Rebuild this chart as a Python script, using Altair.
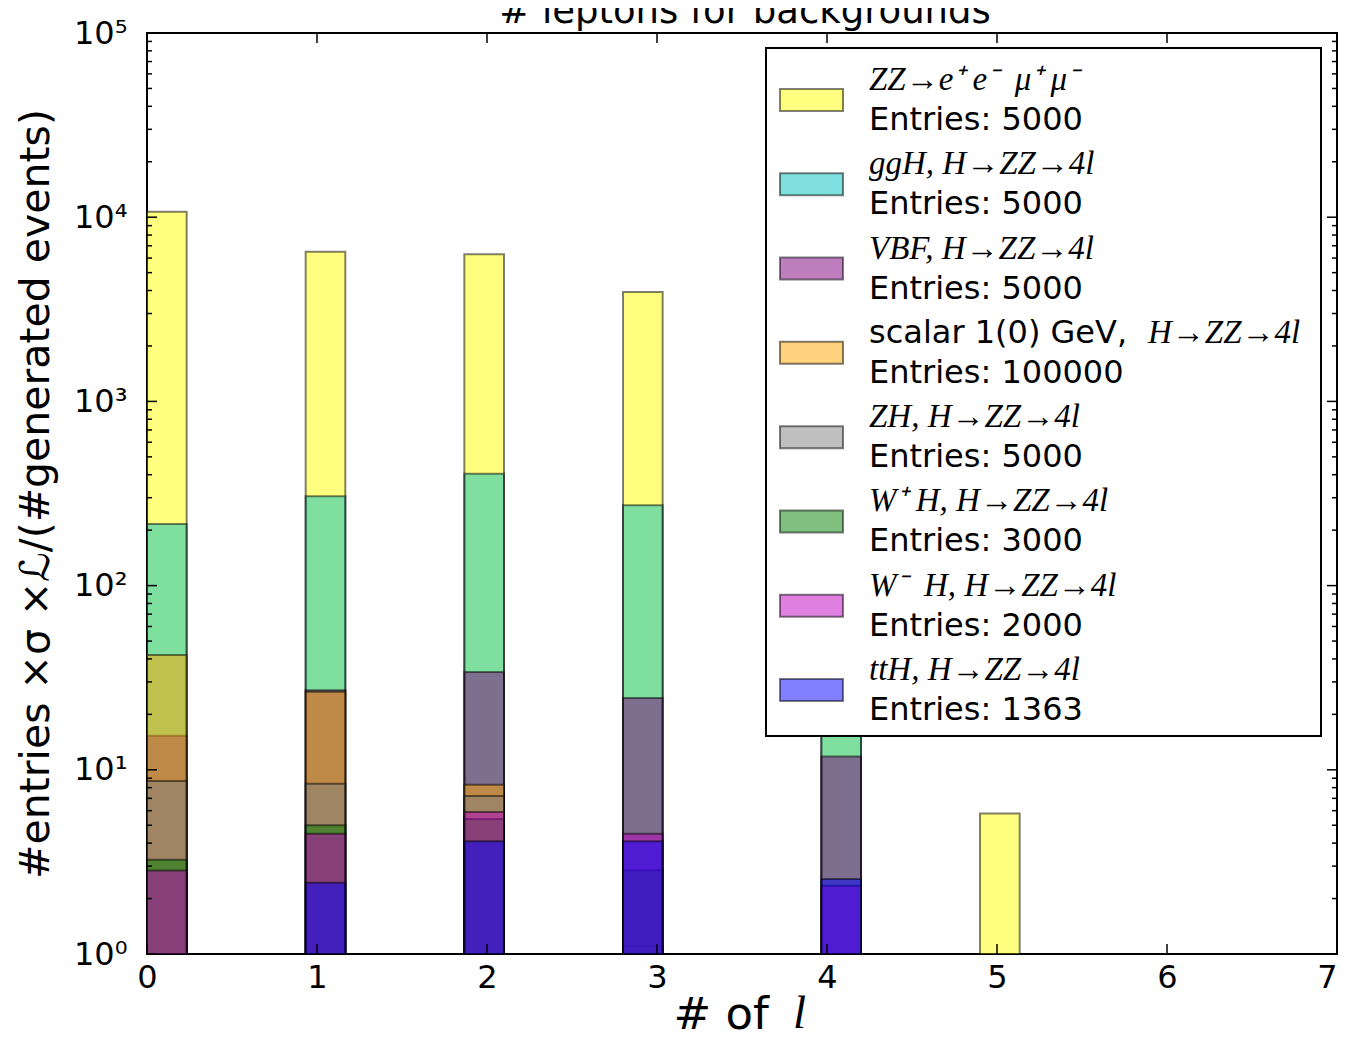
import altair as alt
import pandas as pd

# ---------------- data ----------------
series = ["ZZ", "ggH", "VBF", "scalar", "ZH", "WpH", "WmH", "ttH"]
colors = ["#ffff00", "#00bfbf", "#800080", "#ffa500", "#808080", "#008000", "#bf00bf", "#0000ff"]

# histogram: 30 bins over [0, 7]; only these bins hold entries
n_bins = 30
x_min, x_max = 0, 7
bin_index = [0, 4, 8, 12, 17, 21]

zz     = [10700, 6500, 6300, 3930, 800, 5.8]
ggh    = [216, 306, 405, 273, 90, None]
vbf    = [15.3, 27, 34, 24.5, 11.8, None]
scalar = [42, 26.5, 8.3, None, None, None]
zh     = [8.7, 8.4, 7.2, 1.1, None, None]
wph    = [3.25, 5.0, 5.4, 2.85, None, None]
wmh    = [2.84, 4.5, 5.9, 4.5, 2.35, None]
tth    = [None, 2.44, 4.1, 4.1, 2.55, None]
all_vals = [zz, ggh, vbf, scalar, zh, wph, wmh, tth]

NB = "\u00a0"
legend_pre = ["", "", "", "scalar 1(0) GeV,", "", "", "", ""]
legend_math = ["ZZ\u2192e\u207a" + NB + "e\u207b" + NB + NB + "\u03bc\u207a" + NB + "\u03bc\u207b",
               "ggH, H\u2192ZZ\u21924l",
               "VBF, H\u2192ZZ\u21924l",
               "H\u2192ZZ\u21924l",
               "ZH, H\u2192ZZ\u21924l",
               "W\u207a" + NB + "H, H\u2192ZZ\u21924l",
               "W\u207b" + NB + NB + "H, H\u2192ZZ\u21924l",
               "ttH, H\u2192ZZ\u21924l"]
legend_entries = [5000, 5000, 5000, 100000, 5000, 3000, 2000, 1363]

title_text = "# leptons for backgrounds"
x_title = "# of"
x_title_var = "l"
y_title = "#entries \u00d7\u03c3 \u00d7\u2112/(#generated events)"

x_ticks = [0, 1, 2, 3, 4, 5, 6, 7]
y_major = [1, 10, 100, 1000, 10000, 100000]
y_minor = [m * 10 ** k for k in range(5) for m in range(2, 10)]
sup = ["\u2070", "\u00b9", "\u00b2", "\u00b3", "\u2074", "\u2075"]

# ---------------- tables ----------------
bw = (x_max - x_min) / n_bins
rows = []
for s, vals in zip(series, all_vals):
    for b, v in zip(bin_index, vals):
        if v is not None:
            rows.append({"series": s, "lo": x_min + b * bw, "hi": x_min + (b + 1) * bw, "v": v})
hist = pd.DataFrame(rows)

leg = pd.DataFrame({
    "series": series, "slot": list(range(len(series))),
    "pre": legend_pre, "math": legend_math,
    "entries": ["Entries: %d" % e for e in legend_entries],
})
one = pd.DataFrame({"a": [0]})

W, H = 1190, 921
FONT = "DejaVu Sans"

xscale = alt.Scale(domain=[x_min, x_max], nice=False, zero=False)
yscale = alt.Scale(type="log", domain=[1, 100000], nice=False)
cscale = alt.Scale(domain=series, range=colors)

xaxis = alt.Axis(values=x_ticks, ticks=False, tickSize=0, domain=False, grid=False,
                 labelFontSize=32, labelFont=FONT, labelColor="black", labelPadding=8,
                 labelFlush=False, labelOverlap=False, format="d",
                 labelAlign={"condition": {"test": "datum.value == %d" % x_max, "value": "right"},
                             "value": "center"},
                 title=x_title, titleFontSize=45, titleFont=FONT, titleFontWeight="normal",
                 titleColor="black", titleAlign="left", titleBaseline="alphabetic",
                 titleX=526, titleY=74)
yexpr = "'10' + " + "[" + ",".join("'%s'" % s for s in sup) + "][round(log(datum.value)/LN10)]"
yaxis = alt.Axis(values=y_major, ticks=False, tickSize=0, domain=False, grid=False,
                 labelFontSize=32, labelFont=FONT, labelColor="black", labelPadding=20,
                 labelExpr=yexpr, labelOverlap=False,
                 title=y_title,
                 titleFontSize=41, titleFont=FONT, titleFontWeight="normal", titleColor="black",
                 titleAngle=270, titleAlign="center", titleBaseline="alphabetic",
                 titleX=-99, titleY=H / 2)

X = lambda f: alt.X(f, scale=xscale, axis=xaxis)
Y = lambda f: alt.Y(f, scale=yscale, axis=yaxis)

bars = alt.Chart(hist).mark_rect(fillOpacity=0.5, stroke="black", strokeOpacity=0.5,
                                 strokeWidth=2).encode(
    x=X("lo:Q"), x2="hi:Q", y=Y("v:Q"), y2=alt.datum(1),
    color=alt.Color("series:N", scale=cscale, legend=None),
)

ymaj = pd.DataFrame({"v": y_major})
ymin = pd.DataFrame({"v": y_minor})
xt = pd.DataFrame({"lo": x_ticks})
tick = dict(color="black", strokeWidth=1.5)
ticks = [
    alt.Chart(ymaj).mark_rule(**tick).encode(y=Y("v:Q"), x=alt.value(0), x2=alt.value(10)),
    alt.Chart(ymaj).mark_rule(**tick).encode(y=Y("v:Q"), x=alt.value(W - 10), x2=alt.value(W)),
    alt.Chart(ymin).mark_rule(**tick).encode(y=Y("v:Q"), x=alt.value(0), x2=alt.value(5)),
    alt.Chart(ymin).mark_rule(**tick).encode(y=Y("v:Q"), x=alt.value(W - 5), x2=alt.value(W)),
    alt.Chart(xt).mark_rule(**tick).encode(x=X("lo:Q"), y=alt.value(H - 10), y2=alt.value(H)),
    alt.Chart(xt).mark_rule(**tick).encode(x=X("lo:Q"), y=alt.value(0), y2=alt.value(10)),
]

xlab_l = alt.Chart(one).mark_text(text=x_title_var, font="Liberation Serif", fontStyle="italic",
                                  fontSize=47, align="left", baseline="alphabetic").encode(
    x=alt.value(646), y=alt.value(995))
title = alt.Chart(one).mark_text(text=title_text, font=FONT, fontSize=37, align="center",
                                 baseline="alphabetic", color="black").encode(
    x=alt.value(W / 2 + 3), y=alt.value(-10))

main = alt.layer(bars, *ticks, xlab_l, title)

# ---------------- legend ----------------
ls = alt.Scale(domain=[0, 7], range=[67, 657])
LY = alt.Y("slot:Q", scale=ls, axis=None)
box = alt.Chart(one).mark_rect(fill="white", stroke="black", strokeWidth=2).encode(
    x=alt.value(619), x2=alt.value(1174), y=alt.value(15), y2=alt.value(703))
sw = alt.Chart(leg).mark_tick(orient="horizontal", thickness=22, size=63, fillOpacity=0.5,
                              stroke="black", strokeOpacity=0.5, strokeWidth=2, opacity=1).encode(
    x=alt.value(664.5), y=LY, color=alt.Color("series:N", scale=cscale, legend=None))
math_a = alt.Chart(leg).transform_filter("datum.pre == ''").mark_text(
    align="left", baseline="alphabetic", font="Liberation Serif", fontStyle="italic",
    fontSize=33, dy=-10, color="black").encode(x=alt.value(722), y=LY, text="math:N")
pre_b = alt.Chart(leg).transform_filter("datum.pre != ''").mark_text(
    align="left", baseline="alphabetic", font=FONT, fontSize=32, dy=-10, color="black").encode(
    x=alt.value(722), y=LY, text="pre:N")
math_b = alt.Chart(leg).transform_filter("datum.pre != ''").mark_text(
    align="left", baseline="alphabetic", font="Liberation Serif", fontStyle="italic",
    fontSize=33, dy=-10, color="black").encode(x=alt.value(1001), y=LY, text="math:N")
ent = alt.Chart(leg).mark_text(align="left", baseline="alphabetic", font=FONT, fontSize=32,
                               dy=30, color="black").encode(x=alt.value(722), y=LY, text="entries:N")
legend = alt.layer(box, sw, math_a, pre_b, math_b, ent)

chart = alt.layer(main, legend).resolve_scale(y="independent", color="shared").properties(
    width=W, height=H,
    autosize=alt.AutoSizeParams(type="none"),
    padding={"left": 139, "top": 25, "right": 5, "bottom": 84},
).configure_view(stroke="black", strokeWidth=2)

chart.save("out.html", embed_options={"renderer": "svg", "actions": False})
